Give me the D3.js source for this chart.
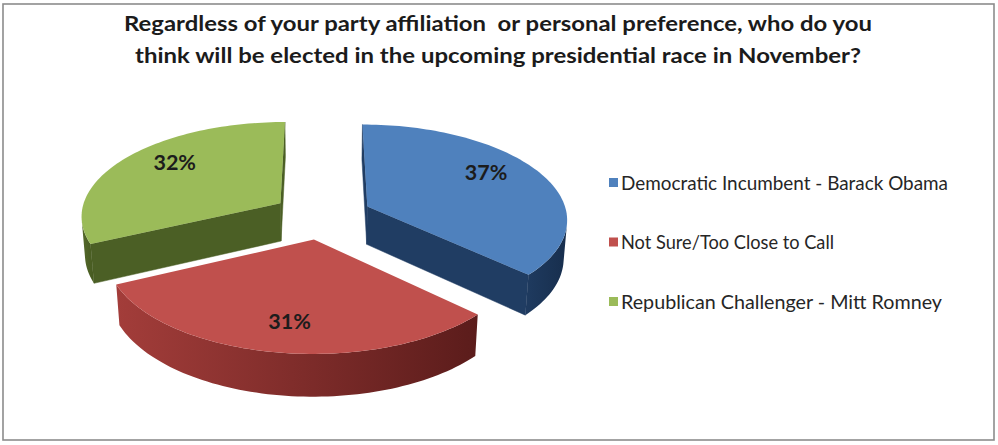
<!DOCTYPE html>
<html>
<head>
<meta charset="utf-8">
<script src="https://cdn.jsdelivr.net/npm/d3@7"></script>
<style>
  body { margin: 0; background: #fff; }
  svg { display: block; }
</style>
</head>
<body>
<script>
// ---- chart data ----
const categories = [
  "Democratic Incumbent - Barack Obama",
  "Not Sure/Too Close to Call",
  "Republican Challenger - Mitt Romney"
];
const values = [37, 31, 32];
const valueLabels = ["37%", "31%", "32%"];
const titleLines = [
  "Regardless of your party affiliation  or personal preference, who do you",
  "think will be elected in the upcoming presidential race in November?"
];

// ---- styling ----
const topColors  = ["#4F81BD", "#C0504D", "#9BBB59"];
const cutColors  = ["#203D63", "#7E2C2A", "#4B5F25"];
const wallStops  = [
  ["#1F3B60", "#172E4D"],
  ["#A33D3A", "#5B1C1B"],
  ["#55692B", "#465A20"]
];

const W = 998, H = 445;
const svg = d3.select("body").append("svg")
  .attr("width", W).attr("height", H)
  .style("font-family", "Lato, 'Open Sans', sans-serif");
const defs = svg.append("defs");

svg.append("rect").attr("x", 0).attr("y", 0).attr("width", W).attr("height", H).attr("fill", "#fff");
svg.append("rect")
  .attr("x", 3).attr("y", 4).attr("width", 991).attr("height", 436)
  .attr("fill", "none").attr("stroke", "#8c8c8c").attr("stroke-width", 1.6);

// ---- title ----
const title = svg.append("g").attr("font-weight", 700).attr("fill", "#1b1b1b");
const titleWidths = [748, 726];
titleLines.forEach((t, i) => {
  title.append("text")
    .attr("x", 498).attr("y", 31 + i * 32)
    .attr("text-anchor", "middle")
    .attr("font-size", 21.5)
    .style("white-space", "pre")
    .attr("textLength", titleWidths[i])
    .attr("lengthAdjust", "spacingAndGlyphs")
    .text(t);
});

// ---- 3D pie geometry ----
const R = 200;          // pie radius
const depth = 44;       // slab thickness
const explode = 50;     // distance each slice is pulled out
const sinT = 0.47, cosT = Math.sqrt(1 - sinT * sinT); // viewing elevation
const camDist = 1441;   // perspective distance
const ox = 322, oy = 215.6;

const slices = d3.pie().sort(null).value(d => d)(values);

// world point on slice (angle theta from 12 o'clock, radius r, height y) -> camera space
function pt(sl, theta, r, y) {
  const m = (sl.startAngle + sl.endAngle) / 2;
  const X = explode * Math.sin(m) + r * Math.sin(theta);
  const Z = explode * Math.cos(m) + r * Math.cos(theta);
  return [X, y * cosT + Z * sinT, Z * cosT - y * sinT];
}
function toScreen(v) {
  const s = camDist / (camDist + v[2]);
  return [ox + v[0] * s, oy - v[1] * s];
}
const sub = (a, b) => [a[0] - b[0], a[1] - b[1], a[2] - b[2]];
const dot = (a, b) => a[0] * b[0] + a[1] * b[1] + a[2] * b[2];
const cross = (a, b) => [a[1] * b[2] - a[2] * b[1], a[2] * b[0] - a[0] * b[2], a[0] * b[1] - a[1] * b[0]];
const centroid = vs => [0, 1, 2].map(k => d3.mean(vs, v => v[k]));
const camera = [0, 0, -camDist];

function facesCamera(verts, inside) {
  let n = cross(sub(verts[1], verts[0]), sub(verts[verts.length - 1], verts[0]));
  const c = centroid(verts);
  if (dot(n, sub(c, inside)) < 0) n = n.map(x => -x);
  return dot(n, sub(camera, c)) > 0;
}

const line = d3.line();
const polyPath = vs => line(vs.map(toScreen)) + "Z";

// draw farthest slices first
const order = d3.range(slices.length).sort((a, b) => {
  const pa = pt(slices[a], 0, 0, 0), pb = pt(slices[b], 0, 0, 0);
  return pb[2] - pa[2];
});

const pieG = svg.append("g");
order.forEach(i => {
  const sl = slices[i];
  const a0 = sl.startAngle, a1 = sl.endAngle, m = (a0 + a1) / 2;
  const inside = pt(sl, m, R / 2, -depth / 2);
  const g = pieG.append("g");

  // straight cut faces
  [a0, a1].forEach(a => {
    const face = [pt(sl, a, 0, 0), pt(sl, a, R, 0), pt(sl, a, R, -depth), pt(sl, a, 0, -depth)];
    if (facesCamera(face, inside)) {
      g.append("path").attr("d", polyPath(face)).attr("fill", cutColors[i])
        .attr("stroke", cutColors[i]).attr("stroke-width", 0.5);
    }
  });

  // curved outer wall, merged into runs of visible segments
  const n = Math.ceil((a1 - a0) / (Math.PI / 120));
  const ts = d3.range(n + 1).map(j => a0 + (a1 - a0) * j / n);
  const runs = [];
  let cur = null;
  for (let j = 0; j < n; j++) {
    const seg = [pt(sl, ts[j], R, 0), pt(sl, ts[j + 1], R, 0), pt(sl, ts[j + 1], R, -depth), pt(sl, ts[j], R, -depth)];
    if (facesCamera(seg, inside)) {
      if (!cur) { cur = [j, j + 1]; runs.push(cur); } else cur[1] = j + 1;
    } else cur = null;
  }
  runs.forEach((run, ri) => {
    const angs = ts.slice(run[0], run[1] + 1);
    const topArc = angs.map(a => pt(sl, a, R, 0));
    const botArc = angs.map(a => pt(sl, a, R, -depth)).reverse();
    const poly = topArc.concat(botArc);
    const xs = poly.map(v => toScreen(v)[0]);
    const gid = `wall-${i}-${ri}`;
    const grad = defs.append("linearGradient").attr("id", gid)
      .attr("gradientUnits", "userSpaceOnUse")
      .attr("x1", d3.min(xs)).attr("x2", d3.max(xs)).attr("y1", 0).attr("y2", 0);
    grad.append("stop").attr("offset", 0).attr("stop-color", wallStops[i][0]);
    grad.append("stop").attr("offset", 1).attr("stop-color", wallStops[i][1]);
    g.append("path").attr("d", polyPath(poly)).attr("fill", `url(#${gid})`);
  });

  // top face
  const top = [pt(sl, m, 0, 0)].concat(ts.map(a => pt(sl, a, R, 0)));
  g.append("path").attr("d", polyPath(top)).attr("fill", topColors[i]);
});

// ---- value labels, leaning slightly toward the vertical axis ----
const labelG = svg.append("g").attr("font-weight", 700).attr("fill", "#1c1c1c")
  .attr("font-size", 21.5).attr("text-anchor", "middle");
slices.forEach((sl, i) => {
  const m = (sl.startAngle + sl.endAngle) / 2;
  const axis = Math.round(m / Math.PI) * Math.PI;
  const la = axis + 0.88 * (m - axis);
  const [x, y] = toScreen(pt(sl, la, 0.75 * R, 0));
  labelG.append("text").attr("x", x).attr("y", y)
    .attr("dominant-baseline", "central").text(valueLabels[i]);
});

// ---- legend ----
const legendY = d3.scalePoint().domain(categories).range([182, 301]);
const legendWidths = [327, 213, 321];
const legend = svg.append("g").attr("font-size", 19).attr("fill", "#262626");
categories.forEach((c, i) => {
  const y = legendY(c);
  legend.append("rect").attr("x", 609).attr("y", y - 4).attr("width", 9).attr("height", 9)
    .attr("fill", topColors[i]);
  legend.append("text").attr("x", 621).attr("y", y)
    .attr("dominant-baseline", "central")
    .attr("textLength", legendWidths[i]).attr("lengthAdjust", "spacingAndGlyphs")
    .text(c);
});
</script>
</body>
</html>
